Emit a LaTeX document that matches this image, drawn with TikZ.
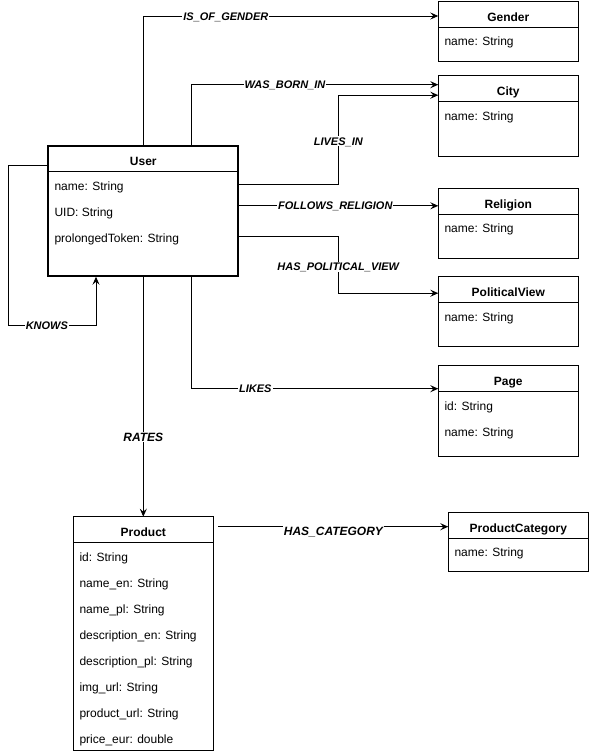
\documentclass[tikz,border=0pt]{standalone}
\usepackage{fontspec}
\setmainfont{Liberation Sans}
\usetikzlibrary{arrows.meta}

\begin{document}
\begin{tikzpicture}[x=1pt,y=-1pt]
\tikzset{
  entity/.style={draw,line width=1pt,minimum width=140pt,inner sep=0pt,outer sep=0pt,anchor=north west},
  classtitle/.style={font=\fontsize{12}{14}\selectfont\bfseries,anchor=base,inner sep=0pt},
  attr/.style={font=\fontsize{12}{14}\selectfont,anchor=base west,inner sep=0pt},
  rel/.style={line width=1pt,-{Stealth[length=8pt,width=7pt,inset=3pt]}},
  lbl/.style={font=\fontsize{11}{13}\selectfont\bfseries\itshape,fill=white,inner sep=1pt,text height=8pt,text depth=0pt},
  biglbl/.style={lbl,font=\fontsize{12}{14}\selectfont\bfseries\itshape,text height=8.6pt}
}
\useasboundingbox (0,0) rectangle (590,755);

\node[entity,minimum height=59.5pt] (gender) at (438.3,1.5) {};
\draw[line width=1pt] ([yshift=-26pt]gender.north west) -- ([yshift=-26pt]gender.north east);
\node[classtitle] (genderTitle) at ([shift={(70pt,-20pt)}]gender.north west) {Gender};
\node[attr] (genderName) at ([shift={(6pt,-44.3pt)}]gender.north west) {name: String};

\node[entity,minimum height=80.3pt] (city) at (438.3,75.7) {};
\draw[line width=1pt] ([yshift=-26pt]city.north west) -- ([yshift=-26pt]city.north east);
\node[classtitle] (cityTitle) at ([shift={(70pt,-20pt)}]city.north west) {City};
\node[attr] (cityName) at ([shift={(6pt,-44.3pt)}]city.north west) {name: String};

\node[entity,line width=2pt,minimum width=190pt,minimum height=130pt] (user) at (48.3,145.7) {};
\draw[line width=1pt] ([yshift=-26pt]user.north west) -- ([yshift=-26pt]user.north east);
\node[classtitle] (userTitle) at ([shift={(95pt,-20pt)}]user.north west) {User};
\node[attr] (userName) at ([shift={(6pt,-44.3pt)}]user.north west) {name: String};
\node[attr] (userUid) at ([shift={(6pt,-70.3pt)}]user.north west) {UID: String};
\node[attr] (userToken) at ([shift={(6pt,-96.3pt)}]user.north west) {prolongedToken: String};

\node[entity,minimum height=70pt] (religion) at (438.3,188.3) {};
\draw[line width=1pt] ([yshift=-26pt]religion.north west) -- ([yshift=-26pt]religion.north east);
\node[classtitle] (religionTitle) at ([shift={(70pt,-20pt)}]religion.north west) {Religion};
\node[attr] (religionName) at ([shift={(6pt,-44.3pt)}]religion.north west) {name: String};

\node[entity,minimum height=69.3pt] (political) at (438.3,276.7) {};
\draw[line width=1pt] ([yshift=-26pt]political.north west) -- ([yshift=-26pt]political.north east);
\node[classtitle] (politicalTitle) at ([shift={(70pt,-20pt)}]political.north west) {PoliticalView};
\node[attr] (politicalName) at ([shift={(6pt,-44.3pt)}]political.north west) {name: String};

\node[entity,minimum height=90.3pt] (page) at (438.3,365.7) {};
\draw[line width=1pt] ([yshift=-26pt]page.north west) -- ([yshift=-26pt]page.north east);
\node[classtitle] (pageTitle) at ([shift={(70pt,-20pt)}]page.north west) {Page};
\node[attr] (pageId) at ([shift={(6pt,-44.3pt)}]page.north west) {id: String};
\node[attr] (pageName) at ([shift={(6pt,-70.3pt)}]page.north west) {name: String};

\node[entity,minimum height=233.3pt] (product) at (73.3,516.7) {};
\draw[line width=1pt] ([yshift=-26pt]product.north west) -- ([yshift=-26pt]product.north east);
\node[classtitle] (productTitle) at ([shift={(70pt,-20pt)}]product.north west) {Product};
\node[attr] (productId) at ([shift={(6pt,-44.3pt)}]product.north west) {id: String};
\node[attr] (productNameEn) at ([shift={(6pt,-70.3pt)}]product.north west) {name\_en: String};
\node[attr] (productNamePl) at ([shift={(6pt,-96.3pt)}]product.north west) {name\_pl: String};
\node[attr] (productDescEn) at ([shift={(6pt,-122.3pt)}]product.north west) {description\_en: String};
\node[attr] (productDescPl) at ([shift={(6pt,-148.3pt)}]product.north west) {description\_pl: String};
\node[attr] (productImg) at ([shift={(6pt,-174.3pt)}]product.north west) {img\_url: String};
\node[attr] (productUrl) at ([shift={(6pt,-200.3pt)}]product.north west) {product\_url: String};
\node[attr] (productPrice) at ([shift={(6pt,-226.3pt)}]product.north west) {price\_eur: double};

\node[entity,minimum height=59.5pt] (category) at (448.3,512.3) {};
\draw[line width=1pt] ([yshift=-26pt]category.north west) -- ([yshift=-26pt]category.north east);
\node[classtitle] (categoryTitle) at ([shift={(70pt,-20pt)}]category.north west) {ProductCategory};
\node[attr] (categoryName) at ([shift={(6pt,-44.3pt)}]category.north west) {name: String};

\coordinate (genderIn) at ([yshift=-14.5pt]gender.north west);
\draw[rel] (user.north) |- node[lbl,pos=0.64] (isOfGender) {IS\_OF\_GENDER} (genderIn);

\coordinate (cityBorn) at ([yshift=-9pt]city.north west);
\draw[rel] ([xshift=47.7pt]user.north) |- node[lbl,pos=0.69] (wasBornIn) {WAS\_BORN\_IN} (cityBorn);

\coordinate (cityLives) at ([yshift=-19.5pt]city.north west);
\coordinate (livesBend) at ([xshift=-100pt]cityLives);
\draw[rel] ([yshift=-38.5pt]user.north east) -| node[lbl,pos=0.74] (livesIn) {LIVES\_IN} (livesBend) -- (cityLives);

\coordinate (religionIn) at ([yshift=-17.5pt]religion.north west);
\draw[rel] (user.east |- religionIn) -- node[lbl,xshift=-3pt] (followsReligion) {FOLLOWS\_RELIGION} (religionIn);

\coordinate (politicalIn) at ([yshift=-16.5pt]political.north west);
\coordinate (politicalBend) at ([xshift=-100pt]politicalIn);
\draw[rel] ([yshift=-90.5pt]user.north east) -| node[lbl,pos=0.77] (hasPoliticalView) {HAS\_POLITICAL\_VIEW} (politicalBend) -- (politicalIn);

\coordinate (pageIn) at ([yshift=-23pt]page.north west);
\draw[rel] ([xshift=47.7pt]user.south) |- node[lbl,pos=0.63] (likes) {LIKES} (pageIn);

\draw[rel] (user.south) -- node[biglbl,pos=0.67] (rates) {RATES} (product.north);

\coordinate (knowsCorner) at (8.3,325);
\draw[rel] ([yshift=-19.5pt]user.north west) -| (knowsCorner) -| node[lbl,pos=0.22] (knows) {KNOWS} ([shift={(-47.3pt,-1pt)}]user.south);

\coordinate (catStart) at ([shift={(5pt,-10pt)}]product.north east);
\coordinate (catIn) at (category.west |- catStart);
\draw[rel] (catStart) -- node[biglbl,yshift=-4pt] (hasCategory) {HAS\_CATEGORY} (catIn);
\end{tikzpicture}
\end{document}
